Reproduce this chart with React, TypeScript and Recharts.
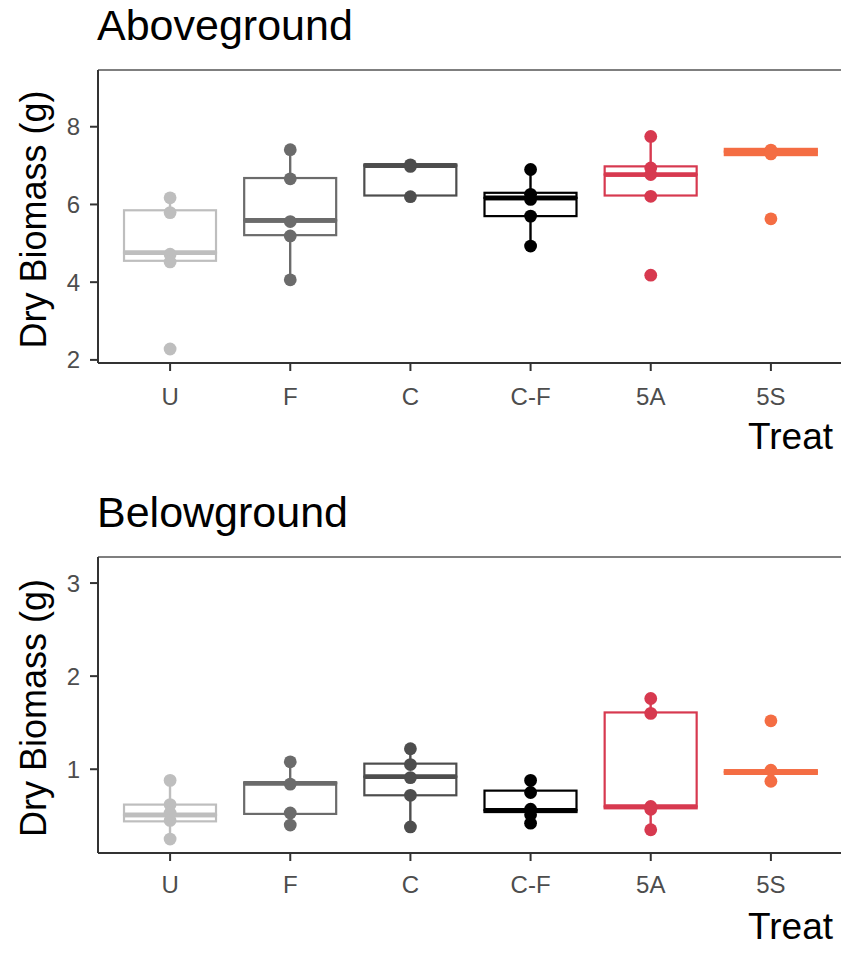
import { ComposedChart, Bar, Scatter, XAxis, YAxis, ReferenceLine, Label } from 'recharts';

const FONT = '"Liberation Sans", Arial, sans-serif';

const treatments = ['U', 'F', 'C', 'C-F', '5A', '5S'];
const treatColors = ['#bebebe', '#6b6b6b', '#4d4d4d', '#000000', '#d7394f', '#f46d43'];

// Aboveground: box stats
const aboveLow = [4.52, 4.06, 6.2, 4.93, 6.21, 7.27];
const aboveQ1 = [4.55, 5.21, 6.23, 5.7, 6.23, 7.27];
const aboveMedian = [4.76, 5.59, 7.0, 6.17, 6.77, 7.36];
const aboveQ3 = [5.85, 6.68, 7.03, 6.3, 6.98, 7.43];
const aboveHigh = [6.17, 7.41, 7.03, 6.9, 7.75, 7.43];
const abovePoints = [
  [6.17, 5.79, 4.72, 4.52, 2.28],
  [7.41, 6.66, 5.56, 5.19, 4.06],
  [7.02, 6.98, 6.2],
  [6.9, 6.26, 6.13, 5.7, 4.93],
  [7.75, 6.94, 6.77, 6.21, 4.18],
  [7.4, 7.3, 5.63],
];

// Belowground
const belowLow = [0.25, 0.4, 0.38, 0.42, 0.35, 0.87];
const belowQ1 = [0.44, 0.52, 0.72, 0.54, 0.58, 0.95];
const belowMedian = [0.51, 0.85, 0.92, 0.56, 0.6, 0.97];
const belowQ3 = [0.62, 0.86, 1.06, 0.77, 1.61, 0.99];
const belowHigh = [0.88, 1.08, 1.22, 0.88, 1.76, 0.99];
const belowPoints = [
  [0.88, 0.62, 0.53, 0.45, 0.25],
  [1.08, 0.84, 0.53, 0.4],
  [1.22, 1.05, 0.91, 0.72, 0.38],
  [0.88, 0.75, 0.57, 0.51, 0.42],
  [1.76, 1.6, 0.6, 0.57, 0.35],
  [1.52, 0.99, 0.87],
];

const aboveTicks = [2, 4, 6, 8];
const belowTicks = [1, 2, 3];

const buildBoxRows = (lo: number[], q1: number[], med: number[], q3: number[], hi: number[]) =>
  treatments.map((name, i) => ({
    pos: i + 1,
    name,
    color: treatColors[i],
    base: lo[i],
    lowWhisker: q1[i] - lo[i],
    lowBox: med[i] - q1[i],
    highBox: q3[i] - med[i],
    highWhisker: hi[i] - q3[i],
  }));

const buildPointRows = (pts: number[][]) =>
  pts.flatMap((vals, i) => vals.map((v) => ({ pos: i + 1, v, color: treatColors[i] })));

const WhiskerShape = (props: any) => {
  const { x, y, width, height, payload } = props;
  if (!height) return null;
  const cx = x + width / 2;
  return <line x1={cx} x2={cx} y1={y} y2={y + height} stroke={payload.color} strokeWidth={2.4} />;
};

const LowBoxShape = (props: any) => {
  const { x, y, width, height, payload } = props;
  return (
    <g>
      <rect x={x} y={y} width={width} height={Math.max(height, 0)} fill="#fff" stroke={payload.color} strokeWidth={2.2} />
      <line x1={x} x2={x + width} y1={y} y2={y} stroke={payload.color} strokeWidth={4.6} />
    </g>
  );
};

const HighBoxShape = (props: any) => {
  const { x, y, width, height, payload } = props;
  const h = Math.max(height, 0);
  return (
    <g>
      <rect x={x} y={y} width={width} height={h} fill="#fff" stroke={payload.color} strokeWidth={2.2} />
      <line x1={x} x2={x + width} y1={y + h} y2={y + h} stroke={payload.color} strokeWidth={4.6} />
    </g>
  );
};

const Dot = (props: any) => <circle cx={props.cx} cy={props.cy} r={6.4} fill={props.payload.color} />;

type PanelProps = {
  title: string;
  top: number;
  height: number;
  marginTop: number;
  marginBottom: number;
  tickGap: number;
  domain: [number, number];
  ticks: number[];
  rows: ReturnType<typeof buildBoxRows>;
  points: ReturnType<typeof buildPointRows>;
};

const Panel = ({ title, top, height, marginTop, marginBottom, tickGap, domain, ticks, rows, points }: PanelProps) => (
  <div style={{ position: 'absolute', left: 0, top, width: 841, height }}>
    <div style={{ position: 'absolute', left: 97, top: marginTop - 70, fontFamily: FONT, fontSize: 43, lineHeight: '50px', color: '#000' }}>
      {title}
    </div>
    <ComposedChart
      width={841}
      height={height}
      data={rows}
      margin={{ top: marginTop, right: -2, bottom: marginBottom, left: 0 }}
      style={{ overflow: 'hidden' }}
    >
      <XAxis
        type="number"
        dataKey="pos"
        domain={[0.4, 6.6]}
        ticks={[1, 2, 3, 4, 5, 6]}
        interval={0}
        allowDataOverflow
        tickFormatter={(v: number) => treatments[v - 1]}
        tickSize={8}
        tickMargin={tickGap}
        height={60}
        axisLine={{ stroke: '#333', strokeWidth: 2 }}
        tickLine={{ stroke: '#333', strokeWidth: 2 }}
        tick={{ fill: '#4d4d4d', fontSize: 24, fontFamily: FONT }}
      >
        <Label
          content={(p: any) => (
            <text x={p.viewBox.x + p.viewBox.width - 10} y={p.viewBox.y + 86} textAnchor="end" fontSize={37} fontFamily={FONT} fill="#000">
              Treat
            </text>
          )}
        />
      </XAxis>
      <YAxis
        type="number"
        domain={domain}
        ticks={ticks}
        interval={0}
        allowDataOverflow
        width={98}
        tickSize={8}
        tickMargin={10}
        axisLine={{ stroke: '#333', strokeWidth: 2 }}
        tickLine={{ stroke: '#333', strokeWidth: 2 }}
        tick={{ fill: '#4d4d4d', fontSize: 24, fontFamily: FONT }}
      >
        <Label
          content={(p: any) => {
            const cx = 46;
            const cy = p.viewBox.y + p.viewBox.height / 2 + 3;
            return (
              <text x={cx} y={cy} transform={`rotate(-90, ${cx}, ${cy})`} textAnchor="middle" fontSize={36} fontFamily={FONT} fill="#000">
                Dry Biomass (g)
              </text>
            );
          }}
        />
      </YAxis>
      <ReferenceLine y={domain[1]} stroke="#555" strokeWidth={1.6} />
      <Bar dataKey="base" stackId="box" fill="none" barSize={92} isAnimationActive={false} />
      <Bar dataKey="lowWhisker" stackId="box" barSize={92} shape={WhiskerShape} isAnimationActive={false} />
      <Bar dataKey="lowBox" stackId="box" barSize={92} shape={LowBoxShape} isAnimationActive={false} />
      <Bar dataKey="highBox" stackId="box" barSize={92} shape={HighBoxShape} isAnimationActive={false} />
      <Bar dataKey="highWhisker" stackId="box" barSize={92} shape={WhiskerShape} isAnimationActive={false} />
      <Scatter data={points} dataKey="v" shape={Dot} isAnimationActive={false} />
    </ComposedChart>
  </div>
);

const aboveRows = buildBoxRows(aboveLow, aboveQ1, aboveMedian, aboveQ3, aboveHigh);
const belowRows = buildBoxRows(belowLow, belowQ1, belowMedian, belowQ3, belowHigh);
const aboveDots = buildPointRows(abovePoints);
const belowDots = buildPointRows(belowPoints);

export default function App() {
  return (
    <div style={{ position: 'absolute', left: 0, top: 0, width: 841, height: 961, background: '#fff', overflow: 'hidden' }}>
      <Panel
        title="Aboveground"
        top={0}
        height={480}
        marginTop={70}
        marginBottom={57}
        tickGap={17}
        domain={[1.92, 9.46]}
        ticks={aboveTicks}
        rows={aboveRows}
        points={aboveDots}
      />
      <Panel
        title="Belowground"
        top={480}
        height={481}
        marginTop={77}
        marginBottom={48}
        tickGap={15}
        domain={[0.1, 3.28]}
        ticks={belowTicks}
        rows={belowRows}
        points={belowDots}
      />
    </div>
  );
}
